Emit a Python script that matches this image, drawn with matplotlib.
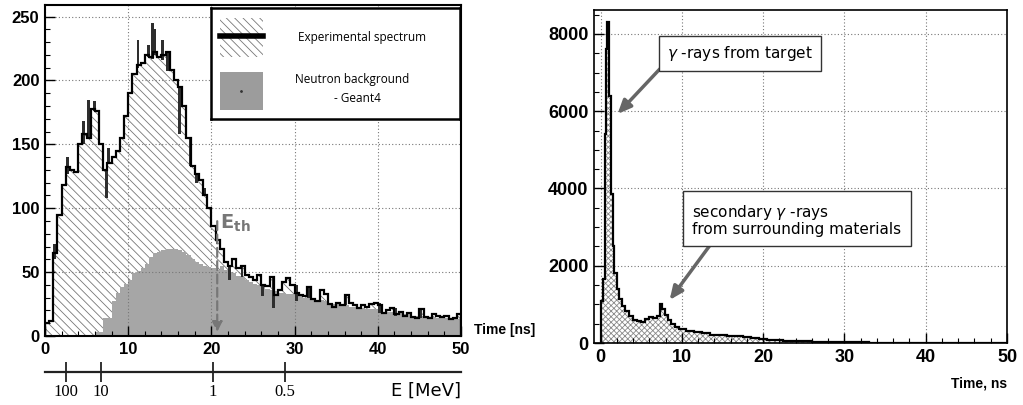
import numpy as np
import matplotlib
matplotlib.use('Agg')
import matplotlib.pyplot as plt
from matplotlib.patches import Rectangle
from matplotlib.ticker import MultipleLocator

# ---- left panel: neutron time-of-flight spectrum, 0.5 ns bins ----
tof_edges = np.arange(0, 50.01, 0.5)
exp_counts = [10, 12, 65, 95, 118, 132, 130, 128, 150, 158,
              155, 178, 176, 150, 130, 135, 140, 145, 155, 172,
              190, 205, 212, 214, 220, 218, 222, 218, 220, 222,
              208, 200, 195, 180, 155, 133, 127, 122, 110, 100,
              86, 75, 68, 58, 55, 60, 53, 55, 48, 46,
              44, 48, 40, 39, 46, 32, 36, 42, 45, 40,
              34, 32, 31, 38, 29, 27, 36, 33, 25, 23,
              26, 24, 32, 26, 24, 22, 24, 23, 25, 26,
              24, 18, 20, 22, 17, 19, 16, 18, 15, 14,
              21, 15, 14, 17, 16, 15, 16, 13, 14, 17]
g4_counts = [0] * 12 + [3, 3, 14, 14, 27, 34, 38, 41,
              44, 49, 51, 53, 56, 62, 65, 66, 67, 68,
              68, 68, 67, 66, 63, 60, 58, 56, 55, 54,
              53, 52, 55, 52, 50, 49, 47, 46, 44, 42,
              41, 40, 38, 37, 36, 35, 34, 34, 33, 33,
              32, 31, 30, 30, 29, 28, 28, 27, 26, 25,
              25, 24, 24, 23, 23, 22, 22, 21, 21, 21,
              20, 19, 19, 19, 18, 18, 17, 17, 16, 16,
              16, 15, 15, 15, 14, 14, 14, 14, 13, 13]

# narrow dark bins peeking out of the experimental histogram
spike_t = [1.0, 2.5, 4.5, 5.0, 5.75, 7.25, 7.5, 11.0, 12.25, 12.75, 13.0, 14.0,
           14.5, 16.0, 17.25, 18.0, 19.0, 20.5, 22.0, 23.5, 26.0, 27.25, 30.0,
           31.5, 36.0, 40.0, 42.0, 45.0]
spike_lo = [60, 127, 150, 155, 176, 108, 135, 210, 218, 217, 220, 216,
            207, 158, 133, 120, 110, 72, 44, 46, 31, 22, 27,
            30, 24, 18, 16, 14]
spike_hi = [72, 140, 168, 185, 184, 130, 147, 232, 228, 245, 240, 232,
            222, 195, 155, 127, 116, 80, 55, 55, 40, 46, 40,
            38, 32, 26, 22, 21]

# energy scale under the left panel
e_labels = ['100', '10', '1', '0.5']
e_tick_t = [2.5, 6.7, 20.2, 28.8]
e_th = 20.7

# ---- right panel: gamma time spectrum ----
gamma_edges = [0.0, 0.1, 0.3, 0.5, 0.7, 0.85, 1.1, 1.3, 1.5, 1.7, 2.0, 2.3, 2.6,
               3.0, 3.5, 4.0, 4.5, 5.0, 5.5, 6.0, 6.5, 7.0, 7.3, 7.6, 7.9, 8.3,
               8.7, 9.2, 9.7, 10.5, 11.5, 12.5, 13.5, 14.5, 15.5, 16.5, 17.5,
               18.5, 19.5, 20.5, 21.5, 22.5, 24, 26, 28, 30, 33, 36, 40, 45, 50]
gamma_counts = [0, 1100, 1650, 5400, 7600, 8300, 6400, 3850, 2500, 1800,
                1400, 1150, 950, 820, 700, 600, 560, 540, 620, 680,
                650, 700, 1000, 880, 720, 590, 480, 420, 370, 320,
                290, 250, 220, 205, 190, 170, 150, 130, 110, 90,
                75, 55, 40, 28, 20, 15, 12, 9, 7, 5]

W, H = 1023, 405
plt.rcParams['hatch.linewidth'] = 0.6
fig = plt.figure(figsize=(W / 100, H / 100), dpi=100)


def px_axes(x0, y0, x1, y1):
    return fig.add_axes([x0 / W, 1 - y1 / H, (x1 - x0) / W, (y1 - y0) / H])


def style(ax, size):
    ax.tick_params(which='both', direction='in', top=False, right=False)
    ax.tick_params(which='major', length=7, width=1)
    ax.tick_params(which='minor', length=3.5, width=0.8)
    ax.tick_params(axis='x', pad=4)
    ax.tick_params(axis='y', pad=4)
    for lab in ax.get_xticklabels() + ax.get_yticklabels():
        lab.set_fontfamily('Liberation Sans')
        lab.set_fontweight('bold')
        lab.set_fontsize(size)
    ax.grid(True, which='major', linestyle=(0, (1, 2)), color='#777', lw=0.8)


# ---------- left ----------
ax = px_axes(45, 5, 461, 336)
ax.stairs(exp_counts, tof_edges, fill=True, facecolor='white', edgecolor='#777',
          hatch='\\\\\\\\', linewidth=0)
ax.stairs(g4_counts, tof_edges, fill=True, facecolor='#a6a6a6', linewidth=0)
ax.bar(spike_t, np.array(spike_hi) - np.array(spike_lo), bottom=spike_lo,
       width=0.35, align='edge', color='#2e2e2e', zorder=2)
ax.stairs(exp_counts, tof_edges, color='black', lw=1.6, zorder=3)
ax.set_xlim(0, 50)
ax.set_ylim(0, 259)
ax.xaxis.set_major_locator(MultipleLocator(10))
ax.xaxis.set_minor_locator(MultipleLocator(2))
ax.yaxis.set_major_locator(MultipleLocator(50))
ax.yaxis.set_minor_locator(MultipleLocator(10))
for s in ax.spines.values():
    s.set_linewidth(1.5)
style(ax, 12)

ax.annotate('', xy=(e_th, 1), xytext=(e_th, 92),
            arrowprops=dict(arrowstyle='-|>,head_width=0.3,head_length=0.6',
                            color='#777', lw=1.6, linestyle=(0, (4, 2))),
            zorder=4)
ax.text(e_th + 0.3, 88, r'$\mathbf{E_{th}}$', color='#777', fontsize=14,
        ha='left', va='center')

# legend box
lax = px_axes(211, 8, 460, 119)
lax.set_xlim(0, 249)
lax.set_ylim(111, 0)
lax.set_xticks([])
lax.set_yticks([])
for s in lax.spines.values():
    s.set_linewidth(1.8)
lax.add_patch(Rectangle((9, 10), 43, 39, facecolor='white', edgecolor='#777',
                        hatch='\\\\\\\\', linewidth=0))
lax.plot([9, 52], [28, 28], color='black', lw=4)
lax.add_patch(Rectangle((9, 64), 43, 38, facecolor='#9c9c9c', linewidth=0))
lax.plot([30], [83], marker='.', color='#333', ms=2)
lax.text(151, 29, 'Experimental spectrum', fontsize=8.5, family='Open Sans',
         ha='center', va='center')
lax.text(141, 72, 'Neutron background', fontsize=8.5, family='Open Sans',
         ha='center', va='center')
lax.text(146, 90, '- Geant4', fontsize=8.5, family='Open Sans',
         ha='center', va='center')

fig.text(474 / W, 1 - 330 / H, 'Time [ns]', fontsize=10, fontweight='bold',
         family='Liberation Sans', ha='left', va='center')

# energy scale
eax = px_axes(45, 371, 461, 372)
eax.set_xlim(0, 50)
eax.set_yticks([])
for side in ['top', 'left', 'right']:
    eax.spines[side].set_visible(False)
eax.spines['bottom'].set_linewidth(1.6)
eax.spines['bottom'].set_color('#222')
eax.set_xticks(e_tick_t)
eax.set_xticklabels(e_labels, family='Liberation Serif', fontsize=12)
eax.tick_params(axis='x', direction='inout', length=14, width=1.3, pad=2,
                color='#222')
eax.text(50, -19, 'E [MeV]', fontsize=13, family='DejaVu Sans', ha='right',
         va='center', transform=eax.get_xaxis_transform())

# ---------- right ----------
bx = px_axes(594, 10, 1007, 343)
bx.stairs(gamma_counts, gamma_edges, fill=True, facecolor='white',
          edgecolor='#8a8a8a', hatch='xxxxxx', linewidth=0)
bx.stairs(gamma_counts, gamma_edges, color='black', lw=1.6, zorder=3)
bx.set_xlim(-0.8, 50)
bx.set_ylim(0, 8620)
bx.xaxis.set_major_locator(MultipleLocator(10))
bx.xaxis.set_minor_locator(MultipleLocator(2))
bx.yaxis.set_major_locator(MultipleLocator(2000))
bx.yaxis.set_minor_locator(MultipleLocator(500))
for s in bx.spines.values():
    s.set_linewidth(1.2)
style(bx, 13)

arrow = dict(arrowstyle='-|>,head_width=0.35,head_length=0.8', color='#666',
             lw=2.5, shrinkA=0, shrinkB=0)
bx.annotate('', xy=(2.1, 5930), xytext=(7.3, 7094), arrowprops=arrow)
bx.annotate('', xy=(8.5, 1113), xytext=(13.4, 2511), arrowprops=arrow)
bx.text(8.2, 7495, r'$\gamma$ -rays from target', fontsize=11, ha='left',
        va='center', zorder=5,
        bbox=dict(boxstyle='square,pad=0.55', fc='white', ec='#333', lw=1))
bx.text(11.3, 3185, 'secondary $\\gamma$ -rays\nfrom surrounding materials',
        fontsize=11, ha='left', va='center', linespacing=1.05, zorder=5,
        bbox=dict(boxstyle='square,pad=0.6', fc='white', ec='#333', lw=1))

fig.text(1007 / W, 1 - 383 / H, 'Time, ns', fontsize=10, fontweight='bold',
         family='Liberation Sans', ha='right', va='center')

fig.savefig('out.png', dpi=100)
